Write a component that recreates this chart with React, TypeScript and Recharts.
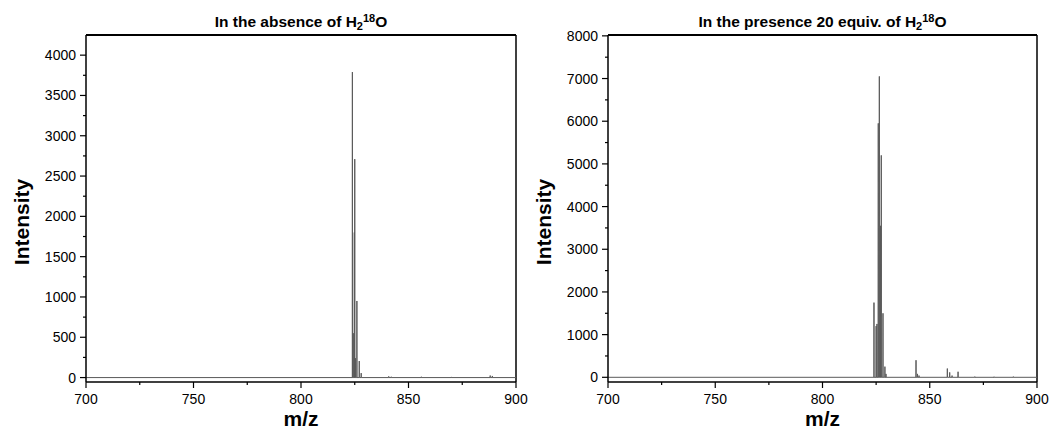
import React from 'react';
import { LineChart, Line, XAxis, YAxis, ReferenceLine } from 'recharts';

// m/z ticks shared by both panels (major every 50, minor every 25)
const mzTicks = [700, 725, 750, 775, 800, 825, 850, 875, 900];

// Left panel: in the absence of H2(18)O
const absenceMz = [823.9, 824.3, 824.8, 825.0, 825.3, 826.0, 827.1, 828.0, 840.8, 842.0, 856.0, 870.0, 888.0, 889.0];
const absenceIntensity = [3790, 550, 1800, 2710, 240, 950, 205, 55, 15, 10, 10, 8, 25, 20];
const absenceTicks = [0, 250, 500, 750, 1000, 1250, 1500, 1750, 2000, 2250, 2500, 2750, 3000, 3250, 3500, 3750, 4000];

// Right panel: in the presence of 20 equiv. of H2(18)O
const presenceMz = [824.0, 825.0, 825.4, 826.0, 826.5, 827.1, 827.4, 828.2, 829.1, 829.6, 843.6, 844.3, 845.0, 858.2, 859.3, 860.4, 863.2, 871.0, 880.0, 889.0];
const presenceIntensity = [1750, 1200, 1250, 5950, 7050, 3550, 5200, 1500, 250, 80, 400, 80, 40, 205, 115, 40, 130, 15, 12, 15];
const presenceTicks = [0, 500, 1000, 1500, 2000, 2500, 3000, 3500, 4000, 4500, 5000, 5500, 6000, 6500, 7000, 7500, 8000];

const FONT = '"Liberation Sans", Arial, sans-serif';

// turn a peak list into a stick spectrum line
function sticks(mz: number[], intensity: number[]) {
  const peaks = mz.map((m, i) => ({ m, v: intensity[i] })).sort((a, b) => a.m - b.m);
  const pts: { mz: number; y: number }[] = [{ mz: 700, y: 0 }];
  peaks.forEach((p) => {
    pts.push({ mz: p.m - 0.04, y: 0 }, { mz: p.m, y: p.v }, { mz: p.m + 0.04, y: 0 });
  });
  pts.push({ mz: 900, y: 0 });
  return pts;
}

const XTick = (props: any) => {
  const { x, y, payload } = props;
  const major = payload.value % 50 === 0;
  return (
    <g>
      <line x1={x} x2={x} y1={y} y2={y + (major ? 6 : 3)} stroke="#000" strokeWidth={1.2} />
      {major && (
        <text x={x} y={y + 22} textAnchor="middle" fontSize={14} fontFamily={FONT} fill="#000">
          {payload.value}
        </text>
      )}
    </g>
  );
};

const makeYTick = (step: number) => (props: any) => {
  const { x, y, payload } = props;
  const major = payload.value % step === 0;
  return (
    <g>
      <line x1={x - (major ? 6 : 3)} x2={x} y1={y} y2={y} stroke="#000" strokeWidth={1.2} />
      {major && (
        <text x={x - 10} y={y + 5} textAnchor="end" fontSize={14} fontFamily={FONT} fill="#000">
          {payload.value}
        </text>
      )}
    </g>
  );
};

interface PanelProps {
  left: number;
  width: number;
  plotLeft: number;
  plotRight: number;
  data: { mz: number; y: number }[];
  yDomain: [number, number];
  yTicks: number[];
  majorStep: number;
  title: React.ReactNode;
}

function Panel({ left, width, plotLeft, plotRight, data, yDomain, yTicks, majorStep, title }: PanelProps) {
  const center = (plotLeft + plotRight) / 2;
  return (
    <div style={{ position: 'absolute', left, top: 0, width, height: 432 }}>
      <LineChart
        width={width}
        height={432}
        data={data}
        style={{ overflow: 'visible' }}
        margin={{ top: 35, right: width - plotRight, left: plotLeft - 40, bottom: 20 }}
      >
        <XAxis
          dataKey="mz"
          type="number"
          domain={[700, 900]}
          ticks={mzTicks}
          interval={0}
          allowDataOverflow
          height={30}
          tickSize={0}
          tickMargin={0}
          axisLine={{ stroke: '#000', strokeWidth: 1.5 }}
          tick={<XTick />}
        />
        <YAxis
          type="number"
          domain={yDomain}
          ticks={yTicks}
          interval={0}
          allowDataOverflow
          width={40}
          tickSize={0}
          tickMargin={0}
          axisLine={{ stroke: '#000', strokeWidth: 1.5 }}
          tick={makeYTick(majorStep)}
        />
        <ReferenceLine y={yDomain[1]} stroke="#000" strokeWidth={2} />
        <ReferenceLine x={900} stroke="#000" strokeWidth={1.5} />
        <Line
          type="linear"
          dataKey="y"
          stroke="#5a5a5a"
          strokeWidth={1}
          dot={false}
          activeDot={false}
          isAnimationActive={false}
        />
      </LineChart>
      <div
        style={{
          position: 'absolute',
          left: center - 220,
          width: 440,
          top: 13,
          textAlign: 'center',
          fontFamily: FONT,
          fontWeight: 'bold',
          fontSize: 15.5,
          lineHeight: '18px',
        }}
      >
        {title}
      </div>
      <div
        style={{
          position: 'absolute',
          left: center - 50,
          width: 100,
          top: 406,
          textAlign: 'center',
          fontFamily: FONT,
          fontWeight: 'bold',
          fontSize: 21,
          lineHeight: '26px',
        }}
      >
        m/z
      </div>
      <div
        style={{
          position: 'absolute',
          left: plotLeft - 114,
          width: 100,
          top: 209,
          textAlign: 'center',
          fontFamily: FONT,
          fontWeight: 'bold',
          fontSize: 21,
          lineHeight: '26px',
          transform: 'rotate(-90deg)',
        }}
      >
        Intensity
      </div>
    </div>
  );
}

const sub: React.CSSProperties = { fontSize: 11, verticalAlign: -3, lineHeight: 0 };
const sup: React.CSSProperties = { fontSize: 11, verticalAlign: 5, lineHeight: 0 };

export default function App() {
  return (
    <div style={{ position: 'absolute', left: 0, top: 0, width: 1049, height: 432, background: '#fff' }}>
      <Panel
        left={0}
        width={540}
        plotLeft={86}
        plotRight={516}
        data={sticks(absenceMz, absenceIntensity)}
        yDomain={[-55, 4250]}
        yTicks={absenceTicks}
        majorStep={500}
        title={
          <span>
            In the absence of H<span style={sub}>2</span>
            <span style={sup}>18</span>O
          </span>
        }
      />
      <Panel
        left={540}
        width={509}
        plotLeft={68}
        plotRight={497}
        data={sticks(presenceMz, presenceIntensity)}
        yDomain={[-110, 8020]}
        yTicks={presenceTicks}
        majorStep={1000}
        title={
          <span>
            In the presence 20 equiv. of H<span style={sub}>2</span>
            <span style={sup}>18</span>O
          </span>
        }
      />
    </div>
  );
}
